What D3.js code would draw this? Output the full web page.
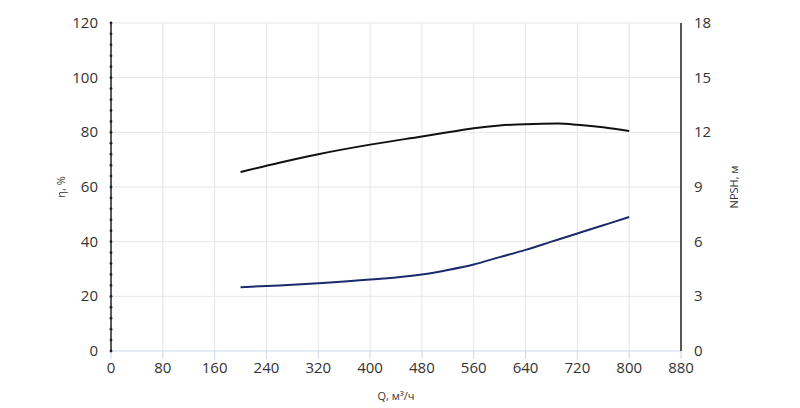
<!DOCTYPE html>
<html><head><meta charset="utf-8">
<script src="https://cdn.jsdelivr.net/npm/d3@7"></script>
<style>body{margin:0;background:#fff}text{font-family:"Open Sans",sans-serif;fill:#333}</style>
</head><body><svg id="c" width="800" height="408"></svg>
<script>
var flowQ = [200, 260, 320, 400, 480, 520, 560, 600, 640, 690, 720, 760, 800];
var effEta = [65.5, 68.9, 72, 75.5, 78.5, 80, 81.5, 82.5, 83, 83.2, 82.8, 81.9, 80.5];
var npshQ = [200, 260, 320, 400, 480, 520, 560, 600, 640, 680, 720, 760, 800];
var npshVal = [3.5, 3.6, 3.72, 3.92, 4.2, 4.45, 4.75, 5.15, 5.55, 6.0, 6.45, 6.9, 7.35];
var xTicks = d3.range(0, 881, 80);
var yTicks = d3.range(0, 121, 20);
var y2Ticks = d3.range(0, 19, 3);

var svg = d3.select("#c");
var L = 111, R = 681, T = 23, B = 351;
var x = d3.scaleLinear().domain([0, 880]).range([L, R]);
var y = d3.scaleLinear().domain([0, 120]).range([B, T]);
var y2 = d3.scaleLinear().domain([0, 18]).range([B, T]);

// grid
svg.selectAll(".gx").data(xTicks.slice(1)).enter().append("line")
  .attr("x1", d => x(d)).attr("x2", d => x(d)).attr("y1", T).attr("y2", B)
  .attr("stroke", "#e6e6e6");
svg.selectAll(".gy").data(yTicks.slice(1)).enter().append("line")
  .attr("x1", L).attr("x2", R).attr("y1", d => y(d)).attr("y2", d => y(d))
  .attr("stroke", "#e6e6e6");

// bottom axis
svg.append("line").attr("x1", L).attr("x2", R).attr("y1", B).attr("y2", B).attr("stroke", "#ccd6eb");
svg.selectAll(".tx").data(xTicks).enter().append("line")
  .attr("x1", d => x(d)).attr("x2", d => x(d)).attr("y1", B).attr("y2", B + 8).attr("stroke", "#ccd6eb");
svg.selectAll(".lx").data(xTicks).enter().append("text")
  .attr("x", d => x(d)).attr("y", B + 22).attr("text-anchor", "middle").attr("font-size", 15).text(d => d);

// left axis
svg.append("line").attr("x1", L).attr("x2", L).attr("y1", T).attr("y2", B).attr("stroke", "#222").attr("stroke-width", 1.5);
svg.selectAll(".mn").data(d3.range(0, 121, 4)).enter().append("circle")
  .attr("cx", L).attr("cy", d => y(d)).attr("r", 1.4).attr("fill", "#222");
svg.selectAll(".ly").data(yTicks).enter().append("text")
  .attr("x", L - 13).attr("y", d => y(d) + 5).attr("text-anchor", "end").attr("font-size", 15).text(d => d);

// right axis
svg.append("line").attr("x1", R).attr("x2", R).attr("y1", T).attr("y2", B).attr("stroke", "#222").attr("stroke-width", 1.5);
svg.selectAll(".ry").data(y2Ticks).enter().append("text")
  .attr("x", R + 13).attr("y", d => y2(d) + 5).attr("text-anchor", "start").attr("font-size", 15).text(d => d);

// titles
svg.append("text").attr("x", x(440)).attr("y", 400).attr("text-anchor", "middle").attr("font-size", 11).text("Q, м³/ч");
svg.append("text").attr("transform", "translate(65," + y(60) + ") rotate(-90)").attr("text-anchor", "middle").attr("font-size", 11).text("η, %");
svg.append("text").attr("transform", "translate(738," + y(60) + ") rotate(-90)").attr("text-anchor", "middle").attr("font-size", 11).text("NPSH, м");

// curves
var line1 = d3.line().x((d, i) => x(flowQ[i])).y(d => y(d)).curve(d3.curveMonotoneX);
svg.append("path").attr("d", line1(effEta)).attr("fill", "none").attr("stroke", "#111").attr("stroke-width", 2);
var line2 = d3.line().x((d, i) => x(npshQ[i])).y(d => y2(d)).curve(d3.curveMonotoneX);
svg.append("path").attr("d", line2(npshVal)).attr("fill", "none").attr("stroke", "#1a2a6c").attr("stroke-width", 2);
</script></body></html>
